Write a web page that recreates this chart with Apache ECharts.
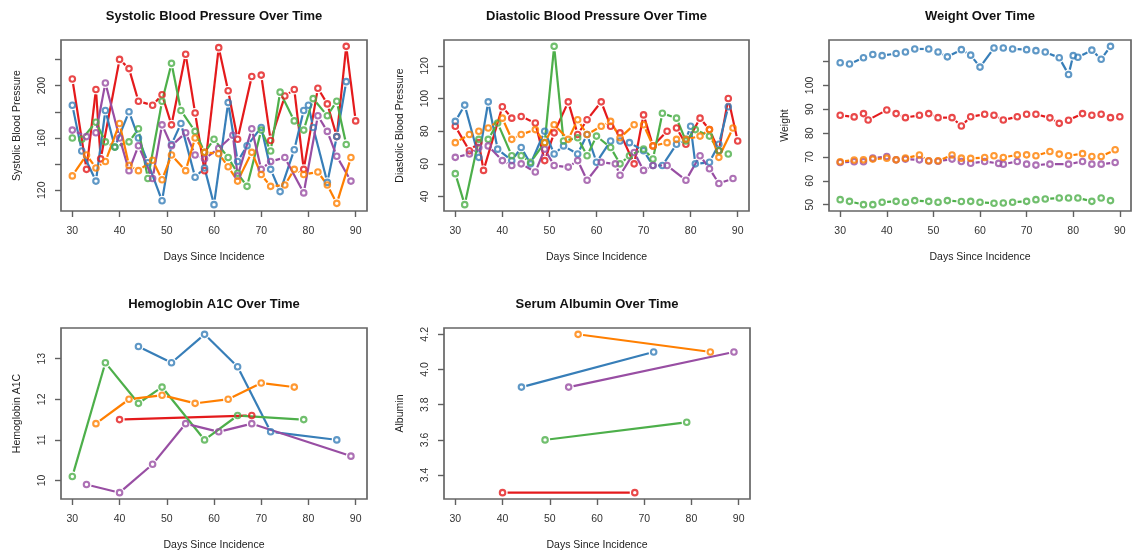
<!DOCTYPE html>
<html>
<head>
<meta charset="utf-8">
<script src="https://cdn.jsdelivr.net/npm/echarts@6/dist/echarts.min.js"></script>
<style>html,body{margin:0;padding:0;background:#fff}#c{width:1139px;height:557px}</style>
</head>
<body>
<div id="c"></div>
<script>
// ---------- data ----------
const TITLES = ['Systolic Blood Pressure Over Time','Diastolic Blood Pressure Over Time','Weight Over Time','Hemoglobin A1C Over Time','Serum Albumin Over Time'];
const Y_NAMES = ['Systolic Blood Pressure','Diastolic Blood Pressure','Weight','Hemoglobin A1C','Albumin'];
const X_NAME = 'Days Since Incidence';
const X_LIM = [30, 90];
const X_TICKS = [30,40,50,60,70,80,90];

const SYS_TICKS = [120,140,160,180,200,220];
const SYS_LABELS = [120,160,200];
const DIA_TICKS = [40,60,80,100,120];
const WT_TICKS = [50,60,70,80,90,100,110];
const WT_LABELS = [50,60,70,80,90,100];
const HB_TICKS = [10,11,12,13];
const ALB_TICKS = [3.4,3.6,3.8,4.0,4.2];

const DAYS_RED    = [30,33,35,36,40,42,44,47,49,51,54,56,58,61,63,65,68,70,72,75,77,79,82,84,86,88,90];
const DAYS_BLUE   = [30,32,35,37,39,42,44,46,49,51,53,56,58,60,63,65,67,70,72,74,77,79,80,81,84,86,88];
const DAYS_GREEN  = [30,32,35,37,39,42,44,46,49,51,53,56,58,60,63,65,67,70,72,74,77,79,81,84,86,88];
const DAYS_PURPLE = [30,33,35,37,40,42,44,47,49,51,54,56,58,61,64,65,68,70,72,75,79,82,84,86,89];
const DAYS_ORANGE = [30,33,35,37,40,42,44,47,49,51,54,56,58,61,63,65,68,70,72,75,77,79,82,84,86,89];

const SYS_RED    = [205,136,197,144,220,213,188,185,193,170,224,179,135,229,196,159,207,208,158,192,197,136,198,186,161,230,173];
const SYS_BLUE   = [185,150,127,181,153,180,160,141,112,155,171,130,137,109,187,142,154,168,136,119,151,181,185,168,126,161,203];
const SYS_GREEN  = [160,159,172,157,153,157,167,129,188,217,181,165,149,159,145,133,123,166,150,195,173,166,190,177,188,155];
const SYS_PURPLE = [166,161,164,202,160,135,154,129,170,154,164,147,144,152,162,131,167,136,142,145,118,177,165,146,127];
const SYS_ORANGE = [131,147,137,142,171,139,135,143,128,147,135,160,149,148,138,127,149,132,123,124,136,132,134,124,110,145];

const DIA_RED    = [83,68,73,56,95,88,89,85,62,79,98,78,87,98,83,79,60,90,71,80,82,72,88,81,68,100,74];
const DIA_BLUE   = [86,96,64,98,69,62,70,60,80,66,71,66,78,61,74,74,73,68,59,59,72,75,83,60,61,72,95];
const DIA_GREEN  = [54,35,75,75,85,65,65,61,73,132,74,76,65,77,70,60,65,69,63,91,88,74,81,77,68,66];
const DIA_PURPLE = [64,66,70,71,62,59,60,55,69,59,58,62,50,61,60,53,67,56,59,59,50,65,57,48,51];
const DIA_ORANGE = [73,78,80,82,88,75,78,81,73,84,75,87,78,83,86,76,84,84,71,73,75,75,77,81,64,82];

const WT_RED    = [87.5,86.8,88.2,85.5,89.7,88.2,86.5,87.5,88.2,86.5,86.5,83.0,86.9,87.9,87.5,85.5,86.9,87.9,87.9,86.4,84.1,85.4,88.2,87.5,87.9,86.5,86.9];
const WT_BLUE   = [109.5,109.0,111.6,113.0,112.5,113.4,114.0,115.3,115.3,114.0,112.0,115.0,112.7,107.7,115.7,115.7,115.3,115.0,114.6,114.0,111.6,104.6,112.5,111.8,114.8,111.0,116.4];
const WT_GREEN  = [52.1,51.4,50.0,50.0,51.0,51.4,51.0,51.7,51.4,51.0,51.7,51.3,51.4,51.0,50.6,50.7,51.0,51.4,52.1,52.4,52.8,52.8,52.8,51.4,52.8,51.7];
const WT_PURPLE = [67.7,68.0,68.0,69.5,70.2,68.8,69.1,68.8,68.3,68.2,69.1,68.1,67.4,68.1,67.3,67.0,68.1,67.0,66.6,67.0,67.0,68.1,67.0,67.0,67.7];
const WT_ORANGE = [68.0,68.7,68.8,69.1,69.5,68.8,69.5,70.8,68.4,68.4,70.8,69.5,69.4,69.8,70.5,69.8,70.9,70.9,70.5,72.3,71.2,70.5,71.4,70.2,70.2,73.0];

const HB_DAYS_RED = [40,68];             const HB_RED = [11.5,11.6];
const HB_DAYS_BLUE = [44,51,58,65,72,86]; const HB_BLUE = [13.3,12.9,13.6,12.8,11.2,11.0];
const HB_DAYS_GREEN = [30,37,44,49,58,65,79]; const HB_GREEN = [10.1,12.9,11.9,12.3,11.0,11.6,11.5];
const HB_DAYS_PURPLE = [33,40,47,54,61,68,89]; const HB_PURPLE = [9.9,9.7,10.4,11.4,11.2,11.4,10.6];
const HB_DAYS_ORANGE = [35,42,49,56,63,70,77]; const HB_ORANGE = [11.4,12.0,12.1,11.9,12.0,12.4,12.3];

const ALB_DAYS_RED = [40,68];    const ALB_RED = [3.3,3.3];
const ALB_DAYS_BLUE = [44,72];   const ALB_BLUE = [3.9,4.1];
const ALB_DAYS_GREEN = [49,79];  const ALB_GREEN = [3.6,3.7];
const ALB_DAYS_PURPLE = [54,89]; const ALB_PURPLE = [3.9,4.1];
const ALB_DAYS_ORANGE = [56,84]; const ALB_ORANGE = [4.2,4.1];

// ---------- styles / layout ----------
const COLORS = {red:'#E41A1C', blue:'#377EB8', green:'#4DAF4A', purple:'#984EA3', orange:'#FF7F00'};
const ORDER = ['red','blue','green','purple','orange'];
const FONT = '"Liberation Sans", Arial, Helvetica, sans-serif';
const GAP = 5;

const PANELS = [
  {grid:{left:61, top:40, width:306, height:171}, yTicks:SYS_TICKS, yLabels:SYS_LABELS, dec:0,
   data:{red:[DAYS_RED,SYS_RED], blue:[DAYS_BLUE,SYS_BLUE], green:[DAYS_GREEN,SYS_GREEN], purple:[DAYS_PURPLE,SYS_PURPLE], orange:[DAYS_ORANGE,SYS_ORANGE]}},
  {grid:{left:444, top:40, width:305, height:171}, yTicks:DIA_TICKS, yLabels:DIA_TICKS, dec:0,
   data:{red:[DAYS_RED,DIA_RED], blue:[DAYS_BLUE,DIA_BLUE], green:[DAYS_GREEN,DIA_GREEN], purple:[DAYS_PURPLE,DIA_PURPLE], orange:[DAYS_ORANGE,DIA_ORANGE]}},
  {grid:{left:829, top:40, width:302, height:171}, yTicks:WT_TICKS, yLabels:WT_LABELS, dec:0,
   data:{red:[DAYS_RED,WT_RED], blue:[DAYS_BLUE,WT_BLUE], green:[DAYS_GREEN,WT_GREEN], purple:[DAYS_PURPLE,WT_PURPLE], orange:[DAYS_ORANGE,WT_ORANGE]}},
  {grid:{left:61, top:328, width:306, height:171}, yTicks:HB_TICKS, yLabels:HB_TICKS, dec:0,
   data:{red:[HB_DAYS_RED,HB_RED], blue:[HB_DAYS_BLUE,HB_BLUE], green:[HB_DAYS_GREEN,HB_GREEN], purple:[HB_DAYS_PURPLE,HB_PURPLE], orange:[HB_DAYS_ORANGE,HB_ORANGE]}},
  {grid:{left:444, top:328, width:306, height:171}, yTicks:ALB_TICKS, yLabels:ALB_TICKS, dec:1,
   data:{red:[ALB_DAYS_RED,ALB_RED], blue:[ALB_DAYS_BLUE,ALB_BLUE], green:[ALB_DAYS_GREEN,ALB_GREEN], purple:[ALB_DAYS_PURPLE,ALB_PURPLE], orange:[ALB_DAYS_ORANGE,ALB_ORANGE]}}
];

function padRange(lo, hi){ const r = hi - lo; return [lo - 0.04*r, hi + 0.04*r]; }

const grids = [], xAxes = [], yAxes = [], series = [], graphics = [];
const xr = padRange(X_LIM[0], X_LIM[1]);

PANELS.forEach((p, i) => {
  grids.push(Object.assign({show:true, borderColor:'#666666', borderWidth:1.7, backgroundColor:'transparent', containLabel:false}, p.grid));
  let lo = Infinity, hi = -Infinity;
  ORDER.forEach(k => p.data[k][1].forEach(v => { lo = Math.min(lo, v); hi = Math.max(hi, v); }));
  const yr = padRange(lo, hi);
  const tickStyle = {color:'#606060', width:1.4};
  xAxes.push({
    gridIndex:i, type:'value', min:xr[0], max:xr[1],
    axisLine:{show:false}, splitLine:{show:false},
    axisTick:{show:true, customValues:X_TICKS, length:6, lineStyle:tickStyle},
    axisLabel:{show:true, customValues:X_TICKS, margin:15, fontSize:10.5, color:'#333', fontFamily:FONT},
    name:X_NAME, nameLocation:'middle', nameGap:41,
    nameTextStyle:{fontSize:10.5, color:'#222', fontFamily:FONT}
  });
  yAxes.push({
    gridIndex:i, type:'value', min:yr[0], max:yr[1],
    axisLine:{show:false}, splitLine:{show:false},
    axisTick:{show:true, customValues:p.yTicks, length:6, lineStyle:tickStyle},
    axisLabel:{show:true, customValues:p.yLabels, rotate:90, margin:13, fontSize:10.5, color:'#333', fontFamily:FONT,
      formatter: v => Number(v).toFixed(p.dec)},
    name:Y_NAMES[i], nameLocation:'middle', nameGap:38,
    nameTextStyle:{fontSize:10.5, color:'#222', fontFamily:FONT}
  });
  graphics.push({type:'text', x:p.grid.left + p.grid.width/2, y:p.grid.top - 24, z:10,
    style:{text:TITLES[i], fill:'#111', font:'bold 13px ' + FONT, align:'center', verticalAlign:'middle'}});

  ORDER.forEach(k => {
    const days = p.data[k][0], vals = p.data[k][1], col = COLORS[k];
    const segs = [];
    for (let j = 0; j + 1 < days.length; j++) segs.push([days[j], vals[j], days[j+1], vals[j+1]]);
    series.push({
      type:'custom', xAxisIndex:i, yAxisIndex:i, data:segs, encode:{x:[0,2], y:[1,3]}, silent:true,
      renderItem:(params, api) => {
        const a = api.coord([api.value(0), api.value(1)]);
        const b = api.coord([api.value(2), api.value(3)]);
        const dx = b[0]-a[0], dy = b[1]-a[1], L = Math.hypot(dx, dy);
        if (L <= 2*GAP) return null;
        const ux = dx/L, uy = dy/L;
        return {type:'line', shape:{x1:a[0]+ux*GAP, y1:a[1]+uy*GAP, x2:b[0]-ux*GAP, y2:b[1]-uy*GAP},
                style:{stroke:col, lineWidth:2.2, lineCap:'butt'}};
      }
    });
    series.push({
      type:'scatter', xAxisIndex:i, yAxisIndex:i, silent:true,
      data:days.map((d, j) => [d, vals[j]]),
      symbol:'circle', symbolSize:5.5,
      itemStyle:{color:'rgba(255,255,255,0)', borderColor:col, borderWidth:2.1}
    });
  });
});

const chart = echarts.init(document.getElementById('c'), null, {renderer:'canvas'});
chart.setOption({
  animation:false,
  backgroundColor:'#fff',
  grid:grids, xAxis:xAxes, yAxis:yAxes, series:series, graphic:graphics
});
</script>
</body>
</html>
